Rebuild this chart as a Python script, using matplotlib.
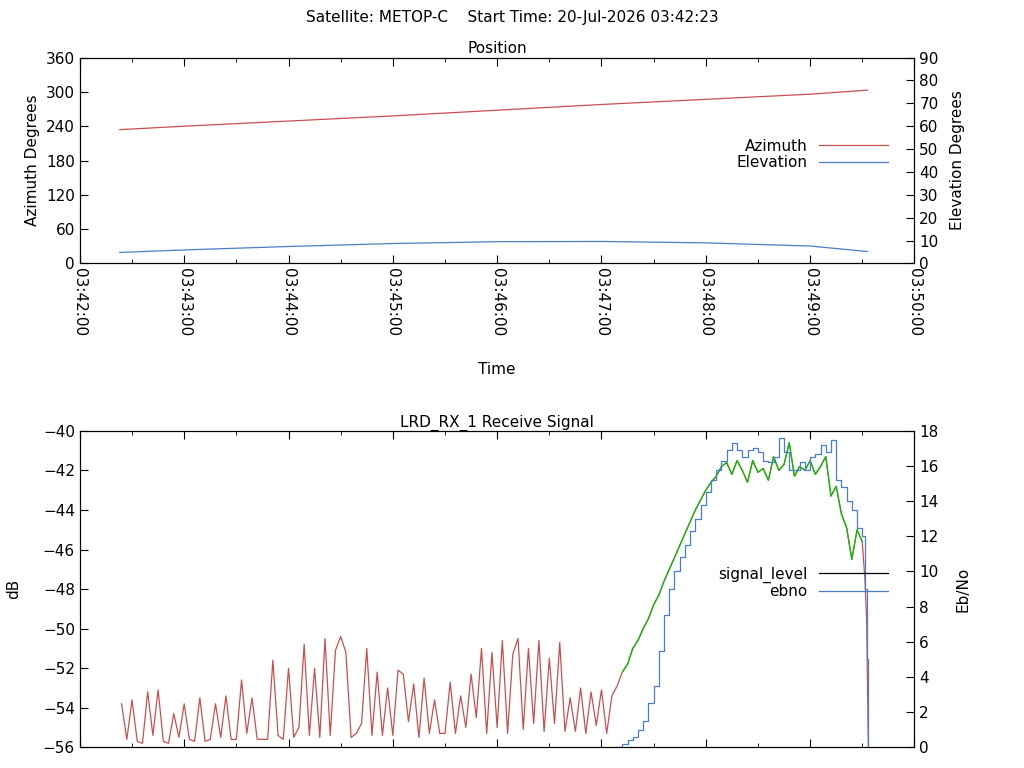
import numpy as np
import matplotlib
matplotlib.use("Agg")
import matplotlib.pyplot as plt
from matplotlib.ticker import MultipleLocator, FuncFormatter

# time is seconds after 03:42:00
pos_t = [23, 60, 120, 180, 240, 300, 360, 420, 453]
azimuth = [234, 240, 249, 258, 268, 278, 287, 296, 303]
elevation = [4.8, 5.9, 7.4, 8.7, 9.5, 9.6, 9.0, 7.6, 5.2]

sig_t = list(np.arange(24, 453, 3)) + [451.5, 452.5, 453.5]
signal_level = [
    -53.8, -55.6, -53.6, -55.7, -55.8, -53.2, -55.4, -53.1, -55.7, -55.8, -54.3,
    -55.5, -53.8, -55.6, -55.7, -53.5, -55.7, -55.6, -53.8, -55.5, -53.4, -55.6,
    -55.6, -52.6, -55.3, -53.5, -55.6, -55.6, -55.6, -51.6, -55.4, -55.6, -52.0,
    -55.5, -55.0, -50.8, -55.4, -52.0, -55.5, -50.5, -55.4, -51.1, -50.4, -51.2,
    -55.5, -55.3, -54.8, -51.0, -55.4, -52.2, -55.4, -53.0, -55.4,
    -52.1, -52.3, -54.7, -52.8, -55.5, -52.5, -55.3, -53.6, -55.3, -55.3, -52.7,
    -55.3, -53.4, -55.0, -52.3, -54.5,
    -51.0, -55.3, -51.2, -55.0, -50.6, -55.3, -51.3, -50.5, -55.1, -51.0, -54.8,
    -50.6, -55.2, -51.5, -54.8, -50.7,
    -55.2, -53.5, -55.2, -53.0, -55.3, -53.2, -54.9, -53.1, -55.3, -53.4,
    -52.9, -52.2, -51.8, -51.0, -50.6, -50.0, -49.5, -48.8, -48.3, -47.6, -47.0,
    -46.4, -45.8, -45.2, -44.6, -44.0, -43.5, -43.0, -42.6, -42.3,
    -41.8, -41.6, -42.2, -41.5, -42.0, -42.6, -41.5, -42.1, -41.9, -42.5, -41.3,
    -42.0, -41.7, -40.6, -42.3, -41.8, -42.0, -41.5, -42.2, -41.8, -41.3, -43.3,
    -42.8, -44.2,
    -44.9, -46.5, -45.0, -45.6,
    -47.5, -49.5, -56.0,
]
lock_start, lock_end = 312, 450

ebno_t = list(np.arange(309, 451, 3)) + [451.5, 452.5, 453.5]
ebno = [
    0.0, 0.2, 0.4, 0.6, 1.0, 1.5, 2.5, 3.5, 5.5, 7.5, 9.0, 10.0, 10.8, 11.5, 12.3,
    13.0, 13.8, 14.5, 15.2, 15.8, 16.3, 16.9, 17.3, 16.9, 16.5, 16.9, 17.0, 16.8,
    16.3, 16.2, 16.5, 17.6, 16.8, 15.8, 15.8, 16.2, 15.8, 16.5, 16.7, 17.2, 16.8,
    17.5, 15.2, 14.8, 14.0, 13.5, 12.5, 12.0,
    9.0, 5.0, 0.0,
]

RED = "#c8504f"
BLUE = "#4a7fc5"
GREEN = "#00c000"
plt.rcParams["font.family"] = "DejaVu Sans"
plt.rcParams["font.size"] = 11


def hms(x, pos=None):
    s = int(round(x)) + 3 * 3600 + 42 * 60
    return f"{s // 3600:02d}:{s // 60 % 60:02d}:{s % 60:02d}"


def style(ax):
    ax.set_xlim(0, 480)
    ax.xaxis.set_major_locator(MultipleLocator(60))
    ax.xaxis.set_minor_locator(MultipleLocator(30))
    ax.tick_params(which="both", direction="in", top=True)
    ax.tick_params(which="major", length=6)
    ax.tick_params(which="minor", length=3)


fig = plt.figure(figsize=(10.24, 7.68), dpi=100)
fig.text(0.5, 0.977, "Satellite: METOP-C    Start Time: 20-Jul-2026 03:42:23",
         ha="center", va="center")

ax1 = fig.add_axes([0.078, 0.657, 0.815, 0.268])
style(ax1)
ax1.plot(pos_t, azimuth, color=RED, lw=0.9, label="Azimuth")
ax1.set_ylim(0, 360)
ax1.yaxis.set_major_locator(MultipleLocator(60))
ax1.set_ylabel("Azimuth Degrees")
ax1.set_title("Position", fontsize=11, pad=3)
ax1.xaxis.set_major_formatter(FuncFormatter(hms))
plt.setp(ax1.get_xticklabels(), rotation=-90)
ax1.set_xlabel("Time", labelpad=18)
ax1b = ax1.twinx()
ax1b.plot(pos_t, elevation, color=BLUE, lw=0.9, label="Elevation")
ax1b.set_ylim(0, 90)
ax1b.yaxis.set_major_locator(MultipleLocator(10))
ax1b.tick_params(direction="in", length=6)
ax1b.set_ylabel("Elevation Degrees", labelpad=8)
h = ax1.get_legend_handles_labels()[0] + ax1b.get_legend_handles_labels()[0]
ax1b.legend(h, ["Azimuth", "Elevation"], loc="center right", bbox_to_anchor=(0.985, 0.53),
            frameon=False, markerfirst=False, handlelength=4.5, labelspacing=0.1, fontsize=11)
ax1.tick_params(axis="y", right=False)

ax2 = fig.add_axes([0.078, 0.027, 0.815, 0.412])
style(ax2)
st = np.array(sig_t, dtype=float)
sv = np.array(signal_level)
ax2.plot(st, sv, color=RED, lw=0.9)
m = (st >= lock_start) & (st <= lock_end)
ax2.plot(st[m], sv[m], color=GREEN, lw=0.9)
ax2.set_ylim(-56, -40)
ax2.yaxis.set_major_locator(MultipleLocator(2))
ax2.set_xticklabels([])
ax2.set_ylabel("dB", labelpad=16)
ax2.set_title("LRD_RX_1 Receive Signal", fontsize=11, pad=3)
ax2.tick_params(axis="y", right=False)
ax2b = ax2.twinx()
ax2b.step(ebno_t, ebno, where="post", color=BLUE, lw=0.9)
ax2b.set_ylim(0, 18)
ax2b.yaxis.set_major_locator(MultipleLocator(2))
ax2b.tick_params(direction="in", length=6)
ax2b.set_ylabel("Eb/No", labelpad=12)
lh = [plt.Line2D([], [], color="black", lw=0.9), plt.Line2D([], [], color=BLUE, lw=0.9)]
ax2b.legend(lh, ["signal_level", "ebno"], loc="center right", bbox_to_anchor=(0.985, 0.52),
            frameon=False, markerfirst=False, handlelength=4.5, labelspacing=0.1, fontsize=11)

fig.savefig("out.png", dpi=100)
